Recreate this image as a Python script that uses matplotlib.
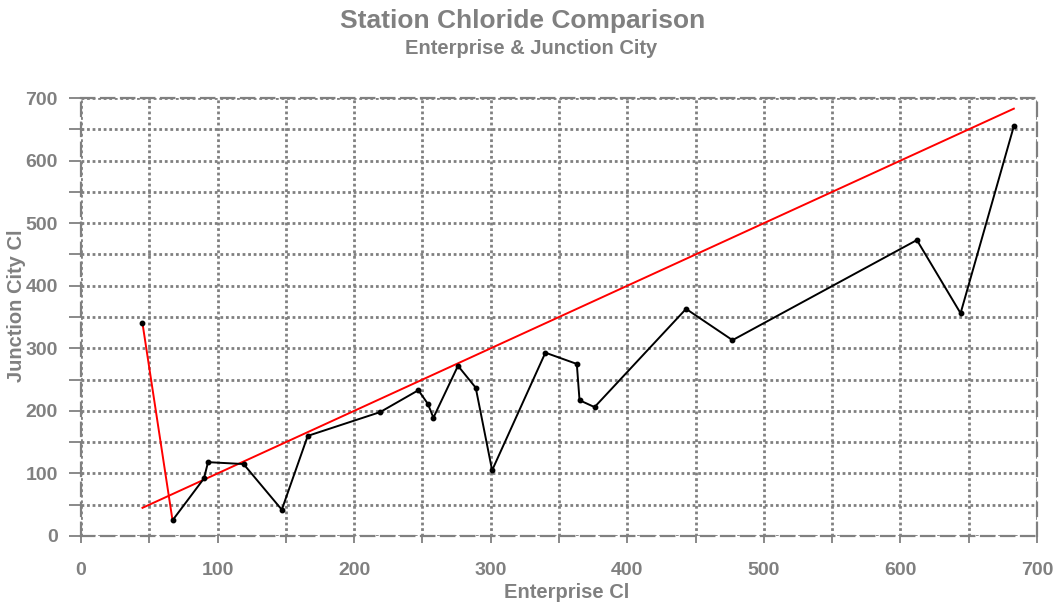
import numpy as np
import matplotlib.pyplot as plt
from matplotlib.ticker import MultipleLocator

# Chloride readings at the two stations (paired samples)
enterprise_cl = [45, 67, 90, 93, 119, 147, 166, 219, 247, 254, 258, 276, 289,
                 301, 340, 363, 365, 376, 443, 477, 612, 644, 683]
junction_cl = [340, 25, 92, 118, 115, 42, 160, 198, 233, 211, 189, 272, 237,
               105, 293, 275, 217, 206, 363, 313, 473, 356, 655]

GRAY = '#808080'
plt.rcParams['font.family'] = ['Liberation Sans', 'DejaVu Sans']
plt.rcParams['font.weight'] = 'bold'

fig = plt.figure(figsize=(10.55, 6.04), dpi=100)
ax = fig.add_axes([0.0768, 0.1126, 0.9062, 0.7251])

# gray dotted grid every 50
ax.xaxis.set_major_locator(MultipleLocator(100))
ax.xaxis.set_minor_locator(MultipleLocator(50))
ax.yaxis.set_major_locator(MultipleLocator(100))
ax.yaxis.set_minor_locator(MultipleLocator(50))
ax.grid(True, which='both', color=GRAY, linestyle=(0, (1, 1)), linewidth=2)
ax.set_axisbelow(True)

# 1:1 reference line
lo, hi = min(enterprise_cl), max(enterprise_cl)
ax.plot([lo, hi], [lo, hi], color='red', linewidth=1.4, zorder=3)

# first segment drawn red, rest black
ax.plot(enterprise_cl[:2], junction_cl[:2], color='red', linewidth=1.4, zorder=3)
ax.plot(enterprise_cl[1:], junction_cl[1:], color='black', linewidth=1.4, zorder=4)
ax.plot(enterprise_cl, junction_cl, linestyle='none', marker='o', markersize=3.2,
        color='black', zorder=5)

ax.set_xlim(0, 700)
ax.set_ylim(0, 700)

for side in ax.spines.values():
    side.set_color(GRAY)
    side.set_linestyle((0, (6, 3)))
    side.set_linewidth(1.6)

ax.tick_params(which='both', direction='out', color=GRAY, width=1.3)
ax.tick_params(axis='x', which='both', length=5, labelsize=14, labelcolor=GRAY, pad=14)
ax.tick_params(axis='y', which='both', length=8.6, labelsize=14, labelcolor=GRAY, pad=8)
for lbl in ax.get_xticklabels() + ax.get_yticklabels():
    lbl.set_fontweight('bold')

ax.set_xlabel('Enterprise Cl', fontsize=14.5, color=GRAY, fontweight='bold')
ax.set_ylabel('Junction City Cl', fontsize=14.5, color=GRAY, fontweight='bold')
ax.xaxis.set_label_coords(0.508, -0.107)
ax.yaxis.set_label_coords(-0.0575, 0.525)

fig.text(0.495, 0.966, 'Station Chloride Comparison', ha='center', va='center',
         fontsize=19, color=GRAY, fontweight='bold')
fig.text(0.503, 0.920, 'Enterprise & Junction City', ha='center', va='center',
         fontsize=14.5, color=GRAY, fontweight='bold')

fig.savefig('out.png', dpi=100)
